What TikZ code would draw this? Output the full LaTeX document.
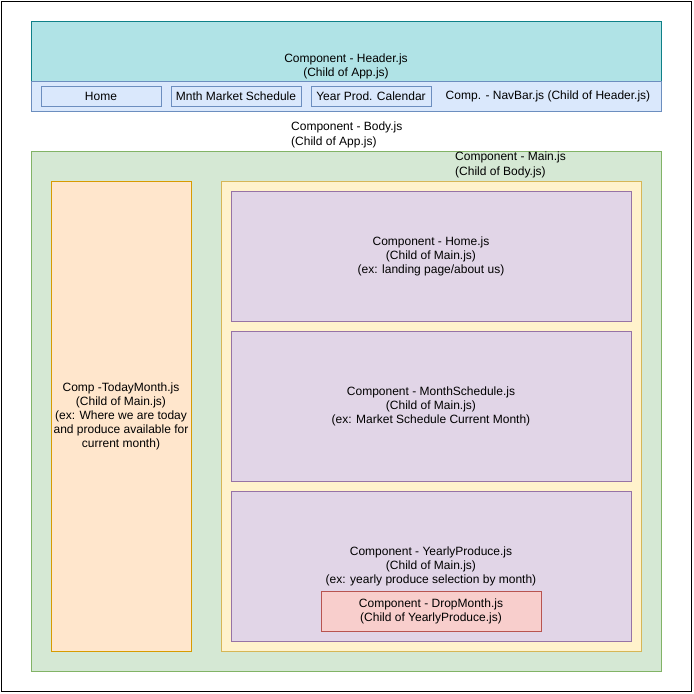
\documentclass[tikz,border=0pt]{standalone}
\usepackage{fontspec}
\setmainfont{Liberation Sans}
\usetikzlibrary{positioning}
\definecolor{headfill}{HTML}{B0E3E6}
\definecolor{headline}{HTML}{0E8088}
\definecolor{navfill}{HTML}{DAE8FC}
\definecolor{navline}{HTML}{6C8EBF}
\definecolor{bodyfill}{HTML}{D5E8D4}
\definecolor{bodyline}{HTML}{82B366}
\definecolor{todayfill}{HTML}{FFE6CC}
\definecolor{todayline}{HTML}{D79B00}
\definecolor{mainfill}{HTML}{FFF2CC}
\definecolor{mainline}{HTML}{D6B656}
\definecolor{pagefill}{HTML}{E1D5E7}
\definecolor{pageline}{HTML}{9673A6}
\definecolor{dropfill}{HTML}{F8CECC}
\definecolor{dropline}{HTML}{B85450}
\tikzset{comp/.style n args={4}{
    rectangle, inner sep=0pt, align=center, line width=0.8pt,
    fill=#1, draw=#2, minimum width=#3, minimum height=#4,
    font=\fontsize{12}{14}\selectfont
  },
  txt/.style={inner sep=0pt, align=left, font=\fontsize{12}{15}\selectfont}
}

\begin{document}
\begin{tikzpicture}[x=1pt,y=-1pt]
      \useasboundingbox (0,0) rectangle (694,694);
      \draw[line width=1pt] (1.5,1.5) rectangle (691.5,691.5);
      \node[comp={headfill}{headline}{630pt}{90pt}] (header) at (346,66.5) {Component - Header.js\\(Child of App.js)};
      \node[comp={navfill}{navline}{630pt}{30pt}, anchor=south] (navbar) at (header.south) {};
      \node[comp={navfill}{navline}{120pt}{20pt}] (navhome) at (101,96.5) {Home};
      \node[comp={navfill}{navline}{130pt}{20pt}] (navmonth) at (236,96.5) {Mnth Market Schedule};
      \node[comp={navfill}{navline}{120pt}{20pt}] (navyear) at (371,96.5) {Year Prod. Calendar};
      \node[txt] (navlabel) at (548,96.5) {Comp. - NavBar.js (Child of Header.js)};
      \node[txt, anchor=west] (bodylabel) at (291,135) {Component - Body.js\\(Child of App.js)};
      \node[comp={bodyfill}{bodyline}{630pt}{520pt}] (body) at (346,411) {};
      \node[txt, anchor=west] (mainlabel) at (455,165) {Component - Main.js\\(Child of Body.js)};
      \node[comp={todayfill}{todayline}{140pt}{470pt}] (today) at (121,416.5) {Comp -TodayMonth.js\\(Child of Main.js)\\(ex: Where we are today\\and produce available for\\current month)};
      \node[comp={mainfill}{mainline}{420pt}{470pt}] (main) at (431,416) {};
      \node[comp={pagefill}{pageline}{400pt}{130pt}] (home) at (431,256.5) {Component - Home.js\\(Child of Main.js)\\(ex: landing page/about us)};
      \node[comp={pagefill}{pageline}{400pt}{150pt}] (schedule) at (431,406.5) {Component - MonthSchedule.js\\(Child of Main.js)\\(ex: Market Schedule Current Month)};
      \node[comp={pagefill}{pageline}{400pt}{150pt}] (yearly) at (431,566.5) {Component - YearlyProduce.js\\(Child of Main.js)\\(ex: yearly produce selection by month)};
      \node[comp={dropfill}{dropline}{220pt}{40pt}] (drop) at (431,611) {Component - DropMonth.js\\(Child of YearlyProduce.js)};
    \end{tikzpicture}
\end{document}
